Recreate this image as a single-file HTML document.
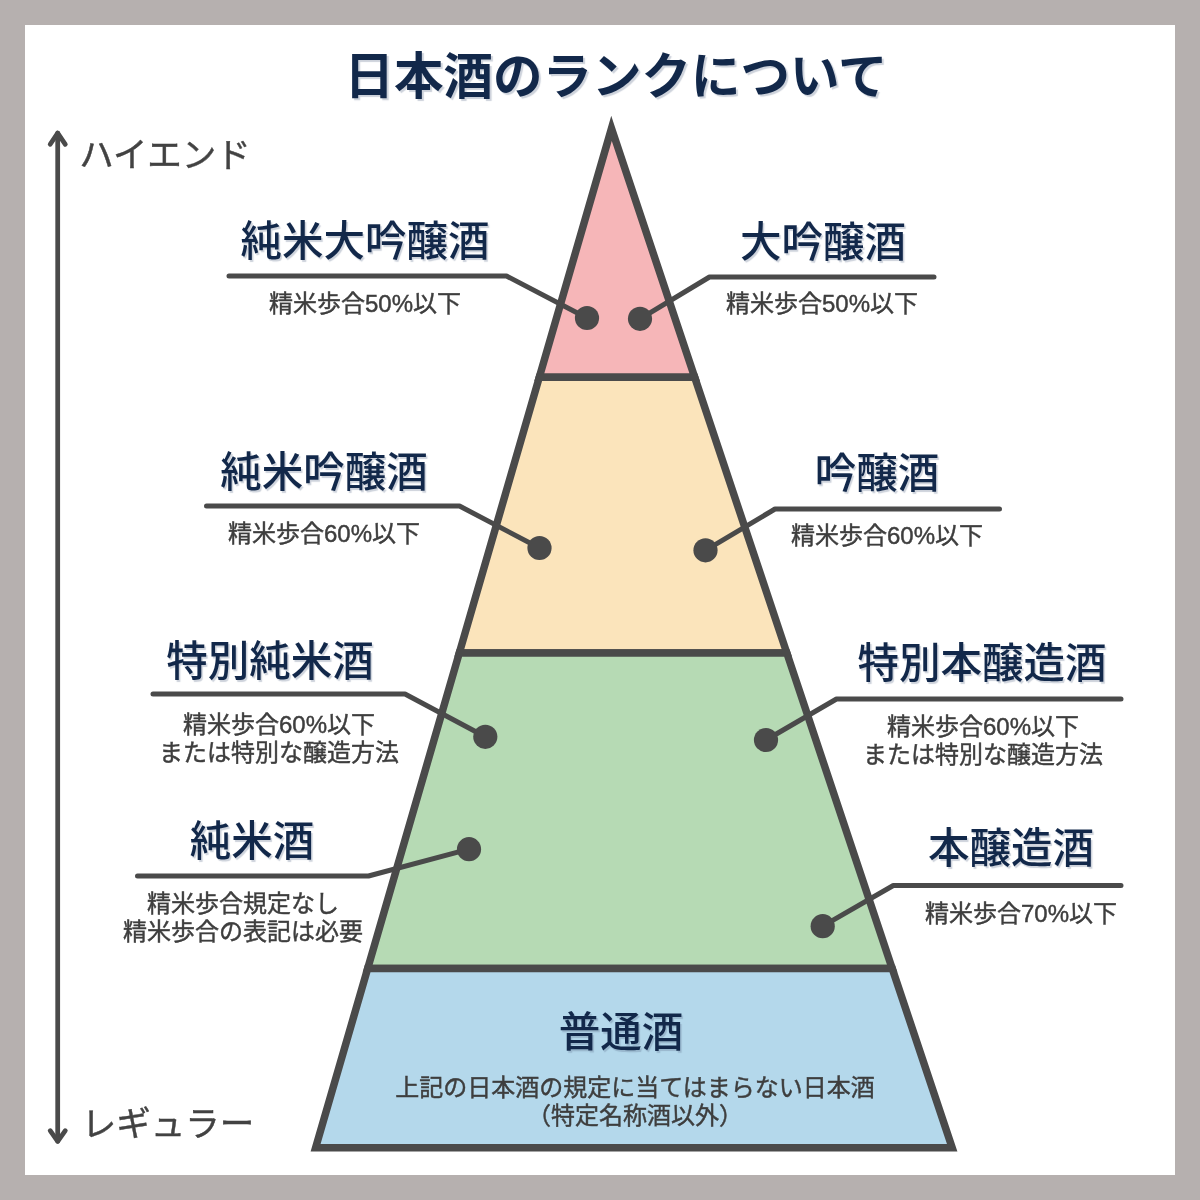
<!DOCTYPE html>
<html lang="ja">
<head>
<meta charset="utf-8">
<title>日本酒のランクについて</title>
<style>
html,body{margin:0;padding:0;}
body{width:1200px;height:1200px;background:#b6b0af;position:relative;overflow:hidden;
  font-family:"Liberation Sans","Noto Sans CJK JP",sans-serif;}
#card{position:absolute;left:25px;top:25px;width:1150px;height:1150px;background:#fff;}
svg{position:absolute;left:0;top:0;}
.t{will-change:transform;position:absolute;white-space:nowrap;line-height:1;transform:translate(-50%,-50%);text-align:center;}
.title{font-weight:700;font-size:49.5px;color:#12284a;text-shadow:2px 2px 1px rgba(90,105,135,0.3);}
.h{font-weight:500;font-size:41.5px;color:#12284a;text-shadow:1.5px 1.5px 1px rgba(90,105,135,0.3);}
.s{font-weight:400;font-size:24px;color:#3e3e3e;line-height:28px;-webkit-text-stroke:0.45px #3e3e3e;}
.a{font-weight:400;font-size:34.5px;color:#424242;-webkit-text-stroke:0.45px #424242;}
</style>
</head>
<body>
<div id="card"></div>
<svg width="1200" height="1200" viewBox="0 0 1200 1200">
  <g stroke="#4a4a4a" stroke-width="7.5" stroke-linejoin="miter" stroke-miterlimit="10">
    <polygon points="611.5,128.4 694.7,377.3 539.3,377.3" fill="#f6b6b8"/>
    <polygon points="539.3,377.3 694.7,377.3 786.8,652.9 459.3,652.9" fill="#fbe4bb"/>
    <polygon points="459.3,652.9 786.8,652.9 892.2,968.5 367.7,968.5" fill="#b6dab4"/>
    <polygon points="367.7,968.5 892.2,968.5 952.2,1147.8 315.6,1147.8" fill="#b4d8eb"/>
  </g>
  <g stroke="#4a4a4a" stroke-width="5" fill="none" stroke-linecap="round" stroke-linejoin="round">
    <path d="M57.7,133.1 V1141.3" stroke-width="4.75"/>
    <path d="M50.2,144.3 L57.7,133.1 L65.3,144.3" stroke-width="4.75"/>
    <path d="M50.2,1130.7 L57.7,1141.3 L65.3,1130.7" stroke-width="4.75"/>
    <path d="M229,276 H506.5 L587,318"/>
    <path d="M934,277 H709.5 L640,318.8"/>
    <path d="M206.5,506 H459.5 L539.5,548"/>
    <path d="M999.5,509 H775 L705.5,550.3"/>
    <path d="M153,694 H405 L485.3,736.8"/>
    <path d="M1121,699 H836.5 L766,740"/>
    <path d="M137.5,876 H368.5 L469,849.2"/>
    <path d="M1121,885.5 H893.3 L822.7,926.2"/>
  </g>
  <g fill="#4a4a4a">
    <circle cx="587" cy="318" r="12.1"/>
    <circle cx="640" cy="318.8" r="12.1"/>
    <circle cx="539.5" cy="548" r="12.1"/>
    <circle cx="705.5" cy="550.3" r="12.1"/>
    <circle cx="485.3" cy="736.8" r="12.1"/>
    <circle cx="766" cy="740" r="12.1"/>
    <circle cx="469" cy="849.2" r="12.1"/>
    <circle cx="822.7" cy="926.2" r="12.1"/>
  </g>
</svg>
<div class="t title" style="left:616px;top:77px;">日本酒のランクについて</div>
<div class="t a" style="left:165.3px;top:155px;">ハイエンド</div>
<div class="t a" style="left:168.3px;top:1124px;">レギュラー</div>

<div class="t h" style="left:365px;top:242px;">純米大吟醸酒</div>
<div class="t s" style="left:365px;top:303.5px;">精米歩合50%以下</div>
<div class="t h" style="left:822.5px;top:243px;">大吟醸酒</div>
<div class="t s" style="left:822px;top:303.5px;">精米歩合50%以下</div>

<div class="t h" style="left:324px;top:472.5px;">純米吟醸酒</div>
<div class="t s" style="left:323.5px;top:534px;">精米歩合60%以下</div>
<div class="t h" style="left:876.5px;top:473.5px;">吟醸酒</div>
<div class="t s" style="left:887.3px;top:536px;">精米歩合60%以下</div>

<div class="t h" style="left:269.5px;top:662px;">特別純米酒</div>
<div class="t s" style="left:279px;top:739px;">精米歩合60%以下<br>または特別な醸造方法</div>
<div class="t h" style="left:981.5px;top:663.5px;">特別本醸造酒</div>
<div class="t s" style="left:983px;top:740.5px;">精米歩合60%以下<br>または特別な醸造方法</div>

<div class="t h" style="left:251.5px;top:842px;">純米酒</div>
<div class="t s" style="left:243px;top:918px;">精米歩合規定なし<br>精米歩合の表記は必要</div>
<div class="t h" style="left:1010.5px;top:849px;">本醸造酒</div>
<div class="t s" style="left:1021.2px;top:913.7px;">精米歩合70%以下</div>

<div class="t h" style="left:620.5px;top:1033px;">普通酒</div>
<div class="t s" style="left:634.7px;top:1102.2px;">上記の日本酒の規定に当てはまらない日本酒<br>（特定名称酒以外）</div>
</body>
</html>
